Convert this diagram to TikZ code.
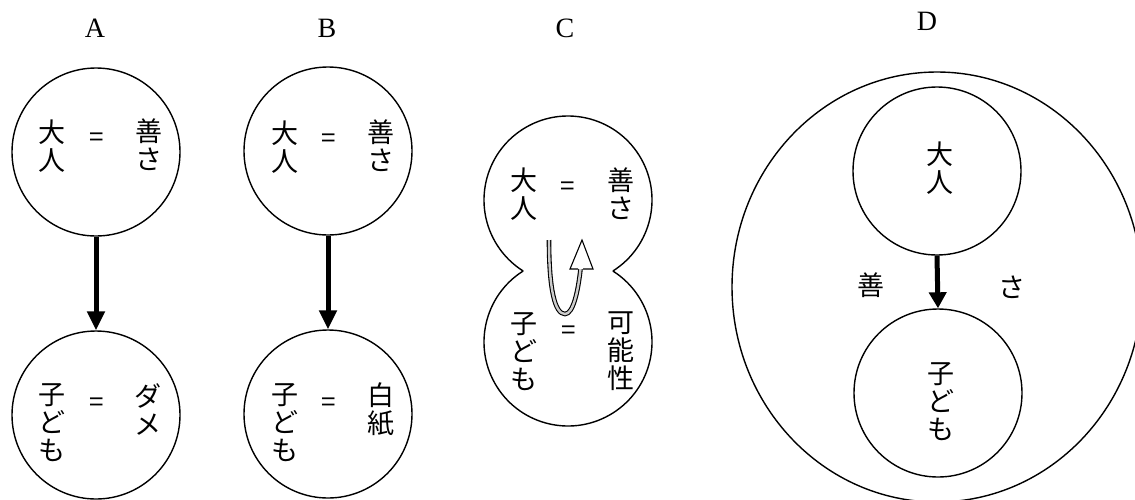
\documentclass[tikz,border=0pt]{standalone}
\usepackage{fontspec}
\setmainfont{Liberation Serif}
\newfontfamily\jp{Noto Sans CJK JP}
\usetikzlibrary{arrows.meta}
\tikzset{
  circ/.style={circle, draw, line width=1.4pt, minimum size=168pt, inner sep=0pt},
  ghost/.style={circle, minimum size=168pt, inner sep=0pt},
  col/.style={anchor=north, inner sep=0pt, align=center, font=\jp\fontsize{27}{28}\selectfont},
  jtxt/.style={inner sep=0pt, font=\jp\fontsize{27}{28}\selectfont},
  eq/.style={inner sep=0pt, font=\jp\fontsize{26}{28}\selectfont},
  lab/.style={inner sep=0pt, font=\fontsize{28}{30}\selectfont},
  bigarrow/.style={line width=5pt, -{Triangle[length=19pt,width=17pt]}},
  uarrow/.style={line width=1.1pt, double=gray!40, double distance=2.4pt},
  outline/.style={line width=1.4pt}
}
\begin{document}
\begin{tikzpicture}[x=1pt,y=-1pt]
\useasboundingbox (0,0) rectangle (1135,499);
\clip (0,0) rectangle (1135,499);
% labels
\node[lab] (lA) at (95,28) {A};
\node[lab] (lB) at (327,28) {B};
\node[lab] (lC) at (565,28) {C};
\node[lab] (lD) at (927,21) {D};
% A
\node[circ] (Aup) at (96,152) {};
\node[circ] (Alow) at (96,415) {};
\draw[bigarrow] (Aup.south) -- (Alow.north);
\node[col] (Aul) at (52,120) {大\\人};
\node[eq] (Aue) at (97,140) {=};
\node[col] (Aur) at (149,119) {善\\さ};
\node[col] (All) at (52,383) {子\\ど\\も};
\node[eq] (Ale) at (97,405) {=};
\node[col] (Alr) at (148,383) {ダ\\メ};
% B
\node[circ] (Bup) at (328,151) {};
\node[circ] (Blow) at (328,414) {};
\draw[bigarrow] (Bup.south) -- (Blow.north);
\node[col] (Bul) at (285,121) {大\\人};
\node[eq] (Bue) at (329,141) {=};
\node[col] (Bur) at (381,120) {善\\さ};
\node[col] (Bll) at (285,383) {子\\ど\\も};
\node[eq] (Ble) at (329,405) {=};
\node[col] (Blr) at (381,383) {白\\紙};
% C
\node[ghost] (Cup) at (568,200) {};
\node[ghost] (Clow) at (568,342) {};
\draw[outline] (Cup.center) ++(57.7:84) arc[start angle=57.7, end angle=-237.7, radius=84];
\draw[outline] (Clow.center) ++(-122.3:84) arc[start angle=-122.3, end angle=-417.7, radius=84];
\node[col] (Cul) at (524,168) {大\\人};
\node[eq] (Cue) at (568,189) {=};
\node[col] (Cur) at (621,168) {善\\さ};
\node[col] (Cll) at (524,312) {子\\ど\\も};
\node[eq] (Cle) at (569,333) {=};
\node[col] (Clr) at (621,312) {可\\能\\性};
\coordinate (us) at (549,240);
\coordinate (ub) at (565,314);
\coordinate (ue) at (580.5,269);
\draw[uarrow] (us) .. controls (549,290) and (555,314) .. (ub) .. controls (573,314) and (578,292) .. (ue);
\fill[white] (570,269) -- (582,240) -- (593,269) -- cycle;
\draw[line width=1.1pt, line join=miter] (578,269) -- (570,269) -- (582,240) -- (593,269) -- (583,269);
% D
\draw[outline] (937,287) ellipse [x radius=205, y radius=215];
\node[circ] (Dup) at (937,171) {};
\node[circ] (Dlow) at (938,393) {};
\draw[line width=5pt, -{Triangle[length=16pt,width=17pt]}] (Dup.south) -- (Dlow.north);
\node[col] (Dut) at (940,142) {大\\人};
\node[col] (Dlt) at (941,362) {子\\ど\\も};
\node[jtxt] (Dl) at (871,285) {善};
\node[jtxt] (Dr) at (1012,287) {さ};
\end{tikzpicture}
\end{document}
